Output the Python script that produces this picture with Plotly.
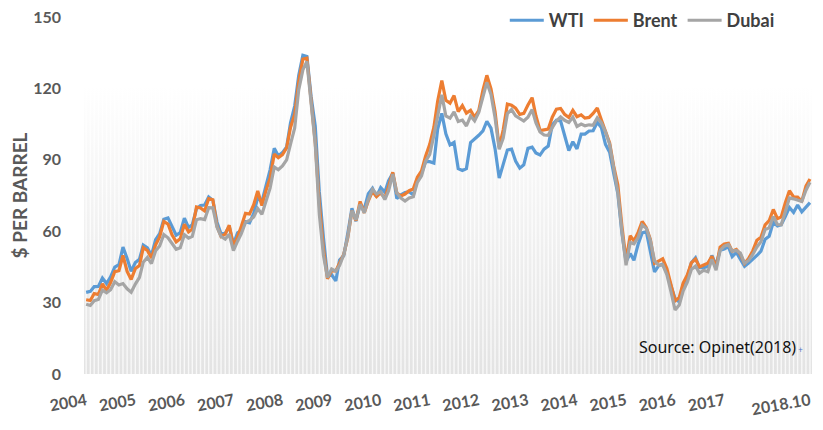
import pandas as pd
import plotly.graph_objects as go

# monthly averages, Jan 2004 - Oct 2018 ($/bbl)
wti = [
    34.3, 34.7, 36.7, 36.8, 40.3, 38.0, 40.8, 44.9, 45.9, 53.3, 48.5, 43.2,
    46.8, 48.2, 54.2, 53.0, 49.8, 56.4, 59.0, 65.0, 65.6, 62.3, 58.3, 59.4,
    65.5, 61.6, 62.7, 69.4, 70.8, 71.0, 74.4, 73.0, 63.8, 58.9, 59.1, 62.0,
    54.5, 59.3, 60.4, 64.0, 63.5, 67.5, 74.1, 72.4, 79.9, 85.8, 94.8, 91.7,
    93.0, 95.4, 105.5, 112.6, 125.4, 133.9, 133.4, 116.7, 104.1, 76.6, 57.3, 41.1,
    41.7, 39.1, 47.9, 49.7, 59.0, 69.6, 64.2, 71.1, 69.4, 75.7, 78.0, 74.5,
    78.3, 76.4, 81.2, 84.3, 73.7, 75.3, 76.3, 76.6, 75.2, 81.9, 84.3, 89.2,
    89.2, 88.6, 102.9, 109.5, 100.9, 96.3, 97.3, 86.3, 85.5, 86.3, 97.2, 98.6,
    100.3, 102.2, 106.2, 103.3, 94.7, 82.3, 87.9, 94.1, 94.5, 89.5, 86.5, 87.9,
    94.8, 95.3, 92.9, 92.0, 94.5, 95.8, 104.7, 106.6, 106.3, 100.5, 93.9, 97.6,
    94.6, 100.8, 100.8, 102.1, 102.2, 105.8, 103.6, 96.5, 93.2, 84.4, 75.8, 59.3,
    47.2, 50.6, 47.8, 54.5, 59.3, 59.8, 50.9, 42.9, 45.5, 46.2, 42.4, 37.2,
    31.7, 30.3, 37.6, 40.8, 46.7, 48.8, 44.7, 44.7, 45.2, 49.8, 45.7, 52.0,
    52.5, 53.5, 49.3, 51.1, 48.5, 45.2, 46.6, 48.0, 49.8, 51.6, 56.6, 57.9,
    63.7, 62.2, 62.7, 66.3, 70.0, 67.9, 71.0, 68.1, 70.2, 72.0,
]
brent = [
    31.2, 30.9, 33.8, 33.4, 37.9, 35.2, 38.4, 43.0, 43.4, 49.8, 43.1, 39.7,
    44.3, 45.6, 53.1, 51.9, 48.7, 54.3, 57.6, 64.1, 63.0, 58.5, 55.5, 56.8,
    62.9, 59.7, 60.9, 70.2, 69.8, 68.5, 73.7, 73.2, 62.0, 57.8, 58.8, 62.5,
    53.7, 57.6, 62.1, 67.5, 67.2, 71.1, 76.9, 70.8, 77.2, 82.3, 92.4, 90.9,
    92.2, 95.0, 103.6, 109.1, 122.8, 132.3, 132.7, 113.2, 97.2, 71.6, 52.5, 40.0,
    43.4, 43.3, 46.5, 50.2, 57.3, 68.6, 64.4, 72.5, 67.7, 72.8, 76.7, 74.5,
    76.2, 73.8, 78.8, 84.8, 76.0, 74.8, 75.6, 77.0, 77.8, 82.7, 85.3, 91.5,
    96.5, 103.7, 114.6, 123.3, 115.0, 113.8, 117.0, 110.2, 112.8, 109.6, 110.8, 107.9,
    110.7, 119.3, 125.5, 119.8, 110.3, 95.2, 102.6, 113.4, 112.9, 111.7, 109.1, 109.5,
    113.0, 116.1, 108.5, 102.3, 102.6, 102.9, 107.9, 111.3, 111.6, 109.1, 107.8, 110.8,
    108.1, 108.9, 107.5, 107.8, 109.5, 111.8, 106.8, 101.6, 97.1, 87.4, 79.4, 62.3,
    47.8, 58.1, 55.9, 59.5, 64.1, 61.5, 56.6, 46.5, 47.6, 48.4, 44.3, 38.0,
    30.7, 32.2, 38.2, 41.6, 46.7, 48.3, 45.0, 45.8, 46.6, 49.5, 44.7, 53.3,
    54.6, 54.9, 51.6, 52.3, 50.3, 46.4, 48.5, 51.7, 56.2, 57.5, 62.7, 64.4,
    69.1, 65.3, 66.0, 72.1, 77.0, 74.4, 74.3, 72.5, 78.9, 81.9,
]
dubai = [
    29.3, 28.8, 30.8, 31.3, 35.2, 34.1, 35.4, 38.8, 37.4, 38.0, 35.8, 34.4,
    37.8, 40.6, 47.0, 49.0, 46.4, 51.8, 53.8, 58.6, 57.2, 54.8, 52.4, 53.0,
    58.5, 57.1, 57.8, 64.8, 65.3, 64.9, 69.9, 69.8, 61.7, 57.8, 56.7, 58.7,
    51.9, 55.8, 59.0, 63.7, 64.5, 66.0, 69.5, 67.1, 73.1, 78.1, 87.0, 85.8,
    87.4, 90.0, 96.6, 103.4, 119.4, 127.8, 131.3, 112.8, 96.6, 67.3, 49.9, 40.5,
    44.1, 43.2, 45.6, 50.1, 57.6, 68.6, 64.8, 71.3, 67.7, 73.3, 77.6, 75.6,
    76.6, 73.3, 77.0, 84.0, 76.1, 73.9, 72.7, 74.0, 74.5, 80.5, 83.3, 89.3,
    92.3, 100.3, 108.7, 117.3, 108.4, 107.5, 110.1, 106.1, 106.7, 104.2, 108.4, 106.4,
    109.9, 116.2, 122.5, 117.4, 107.8, 94.4, 99.1, 109.4, 111.1, 108.5, 107.3, 106.3,
    107.9, 111.1, 105.6, 101.7, 100.4, 100.3, 103.5, 106.3, 108.0, 106.6, 105.7, 107.9,
    104.0, 105.0, 104.3, 104.7, 104.5, 107.6, 105.6, 101.8, 96.5, 86.7, 76.4, 60.3,
    45.7, 55.3, 54.7, 57.3, 62.6, 61.2, 56.1, 47.6, 45.7, 45.9, 41.8, 34.7,
    26.9, 29.0, 34.8, 38.6, 43.9, 45.3, 42.4, 43.6, 43.0, 48.2, 43.6, 51.9,
    53.7, 54.4, 51.6, 51.9, 50.8, 46.5, 47.7, 50.2, 53.4, 55.6, 60.7, 61.4,
    66.2, 62.8, 62.7, 68.3, 74.0, 73.6, 73.1, 72.5, 77.2, 80.6,
]
months = pd.date_range("2004-01-01", periods=len(wti), freq="MS")

tick_dates = [f"{y}-01-01" for y in range(2004, 2018)] + ["2018-10-01"]
tick_text = [str(y) for y in range(2004, 2018)] + ["2018.10"]

GRAY_TXT = "#595959"
BG_TOP = 121  # height of the striped backdrop
x_lo, x_hi = "2003-12-16", "2018-10-16"

fig = go.Figure()

# backdrop: grey-to-white gradient with a thin light stripe per month
fig.add_trace(go.Scatter(x=[x_lo, x_hi], y=[BG_TOP, BG_TOP], mode="lines", line_width=0,
                         fill="tozeroy", showlegend=False, hoverinfo="skip",
                         fillgradient=dict(type="vertical",
                                           colorscale=[[0, "#e3e3e3"], [1, "#ffffff"]])))
sx, sy = [], []
for m in months:
    sx += [m, m, None]
    sy += [0, BG_TOP, None]
fig.add_trace(go.Scatter(x=sx, y=sy, mode="lines", line=dict(color="rgba(255,255,255,0.75)", width=1.4),
                         showlegend=False, hoverinfo="skip"))

fig.add_trace(go.Scatter(x=months, y=wti, mode="lines", name="WTI", line=dict(color="#5B9BD5", width=3.2)))
fig.add_trace(go.Scatter(x=months, y=brent, mode="lines", name="Brent", line=dict(color="#ED7D31", width=3.2)))
fig.add_trace(go.Scatter(x=months, y=dubai, mode="lines", name="Dubai", line=dict(color="#A5A5A5", width=3.2)))

fig.add_annotation(text="Source: Opinet(2018)<span style='color:#4472C4;font-size:8px'> +</span>",
                   xref="paper", yref="paper", x=0.99, y=0.075, xanchor="right", yanchor="middle",
                   showarrow=False, font=dict(family="Noto Sans", size=16, color="#111111"))

# the page body adds an 8px offset, so margins are shifted to compensate
fig.update_layout(
    width=823, height=430,
    margin=dict(l=76, r=19, t=9, b=64, autoexpand=False),
    plot_bgcolor="white", paper_bgcolor="white",
    font=dict(family="Lato", color=GRAY_TXT),
    legend=dict(orientation="h", x=0.578, y=0.99, xanchor="left", yanchor="middle",
                font=dict(family="Lato", size=18, color="#404040", weight="bold"),
                bgcolor="rgba(0,0,0,0)", tracegroupgap=0, itemwidth=34),
    xaxis=dict(range=[x_lo, x_hi], tickvals=tick_dates, ticktext=tick_text, automargin=False,
               tickangle=-10, showgrid=False, zeroline=False, showline=False, ticks="",
               ticklabelstandoff=14, ticklabeloverflow="allow",
               tickfont=dict(size=16, color=GRAY_TXT, weight="bold")),
    yaxis=dict(range=[0, 150], tickvals=[0, 30, 60, 90, 120, 150], showgrid=False, zeroline=False,
               ticks="", ticklabelstandoff=22, automargin=False, ticklabeloverflow="allow",
               tickfont=dict(size=16, color=GRAY_TXT, weight="bold"),
               title=dict(text="$ PER BARREL", standoff=18, font=dict(size=19, color=GRAY_TXT, weight="bold"))),
)

fig.write_html("out.html")
